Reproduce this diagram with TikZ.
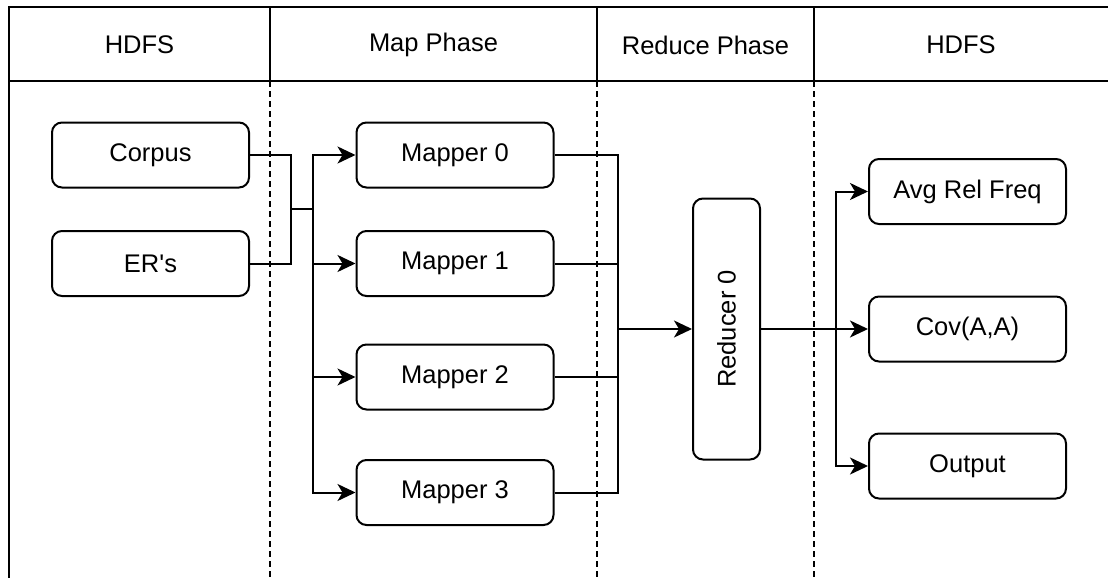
\documentclass[tikz,border=0pt]{standalone}
\usepackage{fontspec}
\usepackage{graphicx}
\setmainfont{Liberation Sans}
\usetikzlibrary{arrows.meta}
\newcommand{\straightquote}{\XeTeXglyph\XeTeXglyphindex "quotesingle" \relax}
\begin{document}
\begin{tikzpicture}[x=1pt,y=-1pt,
  line width=2pt,
  font=\fontsize{25.5}{30}\selectfont,
  box/.style={draw,rounded corners=10pt,minimum width=197pt,minimum height=65pt,inner sep=0pt},
  lane/.style={draw,dash pattern=on 6pt off 4pt},
  conn/.style={line join=miter},
  arr/.style={-{Stealth[length=18pt,width=17pt,inset=5pt]}}]
\useasboundingbox (0,0) rectangle (1108,578);
\clip (0,0) rectangle (1108,578);
% frame and header
\draw (1130,7) -- (9,7) -- (9,600);
\draw (9,81) -- (1130,81);
\draw (270,7) -- (270,81);
\draw (597,7) -- (597,81);
\draw (814,7) -- (814,81);
\draw[lane] (270,81) -- (270,600);
\draw[lane] (597,81) -- (597,600);
\draw[lane] (814,81) -- (814,600);
\node (h1) at (139.5,45) {HDFS};
\node (h2) at (433.5,45) {Map Phase};
\node (h3) at (705.5,45) {Reduce Phase};
\node (h4) at (961,45) {HDFS};
% nodes
\node[box] (corpus) at (150.5,155) {Corpus};
\node[box] (ers) at (150.5,263.5) {ER\straightquote s};
\node[box] (m0) at (455,155) {Mapper 0};
\node[box] (m1) at (455,263.5) {Mapper 1};
\node[box] (m2) at (455,377) {Mapper 2};
\node[box] (m3) at (455,492.5) {Mapper 3};
\node[draw,rounded corners=10pt,minimum width=67pt,minimum height=261pt,inner sep=0pt] (red) at (726.5,329) {\rotatebox{90}{Reducer 0}};
\node[box] (avg) at (967.5,191.5) {Avg Rel Freq};
\node[box] (cov) at (967.5,329) {Cov(A,A)};
\node[box] (out) at (967.5,466) {Output};
% junctions
\coordinate (j1) at (291,209);
\coordinate (j2) at (313,209);
\coordinate (k1) at (618,329);
\coordinate (k2) at (836,329);
% connectors
\draw[conn] (corpus.east) -| (j1);
\draw[conn] (ers.east) -| (j1);
\draw[conn] (j1) -- (j2);
\draw[conn,arr] (j2) |- (m0.west);
\draw[conn,arr] (j2) |- (m1.west);
\draw[conn,arr] (j2) |- (m2.west);
\draw[conn,arr] (j2) |- (m3.west);
\draw[conn] (m0.east) -| (k1);
\draw[conn] (m1.east) -| (k1);
\draw[conn] (m2.east) -| (k1);
\draw[conn] (m3.east) -| (k1);
\draw[conn,arr] (k1) -- (red.west);
\draw[conn] (red.east) -- (k2);
\draw[conn,arr] (k2) |- (avg.west);
\draw[conn,arr] (k2) -- (cov.west);
\draw[conn,arr] (k2) |- (out.west);
\end{tikzpicture}
\end{document}
